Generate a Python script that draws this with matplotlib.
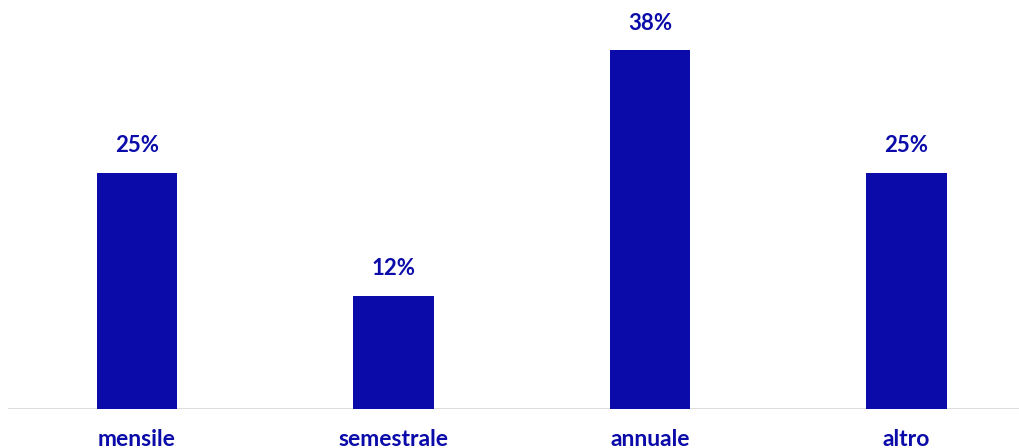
import matplotlib.pyplot as plt

categories = ["mensile", "semestrale", "annuale", "altro"]
values = [25, 12, 38, 25]
value_labels = ["25%", "12%", "38%", "25%"]

blue = "#0B0BAA"

fig = plt.figure(figsize=(10.2, 4.48), dpi=100)
ax = fig.add_axes([0, 39 / 448, 1, 409 / 448])

x = range(len(categories))
bars = ax.bar(x, values, width=0.312, color=blue, zorder=2)

ax.set_xlim(-137 / 256.5, (1020 - 137) / 256.5)
ax.set_ylim(0, 409 / 9.44)
ax.axis("off")
ax.axhline(0, xmin=9 / 1020, xmax=1, color="#D9D9D9", lw=2, zorder=1)

font = dict(family="Lato", fontweight="bold", color=blue)

for i, (v, lab) in enumerate(zip(values, value_labels)):
    ax.annotate(lab, (i, v), xytext=(0, 19.5), textcoords="offset points",
                ha="center", va="center", fontsize=16, **font)
    ax.annotate(categories[i], (i, 0), xytext=(0, -22), textcoords="offset points",
                ha="center", va="center", fontsize=16.5, annotation_clip=False, **font)

fig.savefig("out.png", dpi=100)
